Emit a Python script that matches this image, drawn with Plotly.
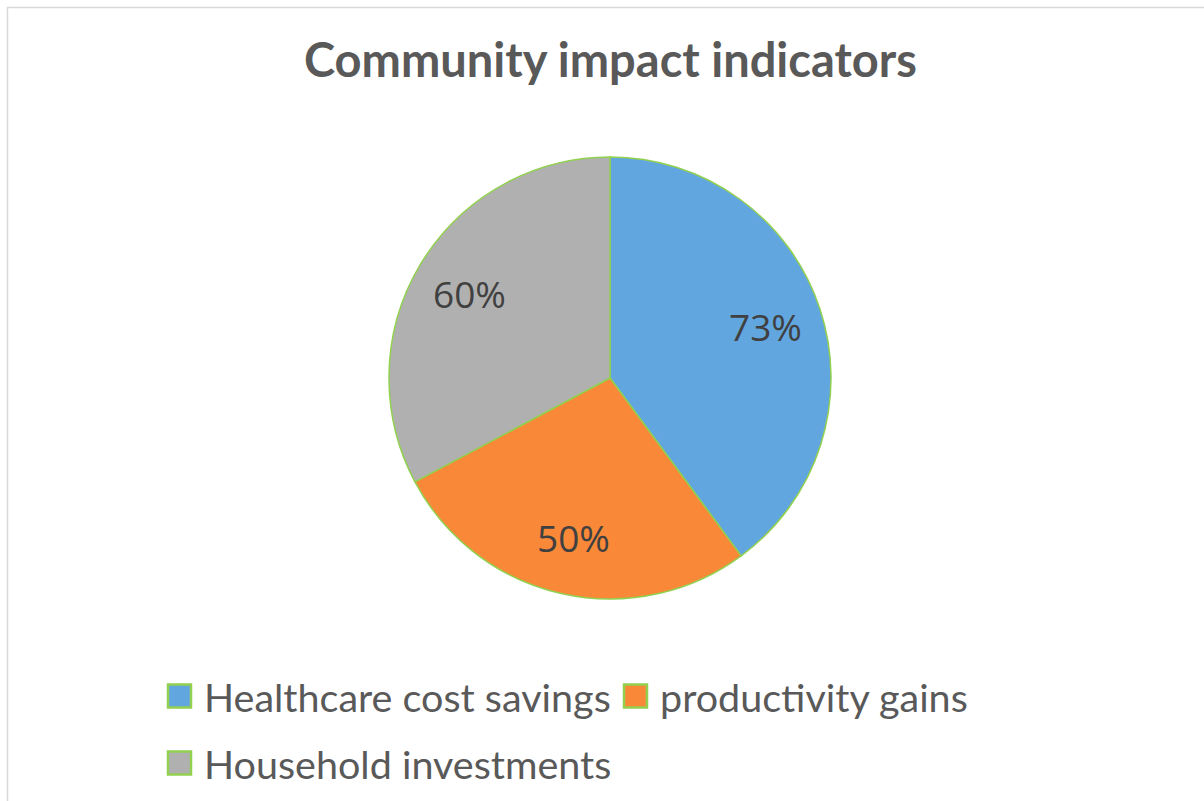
import math
import plotly.graph_objects as go

# Chart data
categories = ["Healthcare cost savings", "productivity gains", "Household investments"]
values = [73, 50, 60]
slice_colors = ["#62A6E0", "#F98838", "#B0B0B0"]

W, H = 1204, 801
cx, cy, r = 610, 378, 221  # pie centre and radius in pixels

fig = go.Figure(
    go.Pie(
        labels=categories,
        values=values,
        sort=False,
        direction="clockwise",
        rotation=0,
        marker=dict(colors=slice_colors, line=dict(color="#92D050", width=1.5)),
        textinfo="none",
        hoverinfo="label+value",
        showlegend=False,
        domain=dict(
            x=[(cx - r) / W, (cx + r) / W],
            y=[1 - (cy + r) / H, 1 - (cy - r) / H],
        ),
    )
)

# Data labels placed on each slice's bisector
total = sum(values)
start = 0.0
for v in values:
    mid = (start + v / 2) / total * 2 * math.pi  # clockwise from 12 o'clock
    start += v
    px = cx + 0.74 * r * math.sin(mid)
    py = cy - 0.74 * r * math.cos(mid)
    fig.add_annotation(
        text=f"{v}%", xref="paper", yref="paper",
        x=px / W, y=1 - py / H, xanchor="center", yanchor="middle", showarrow=False,
        font=dict(family="Open Sans", size=37, color="#404040"),
    )

# Outer chart frame
fig.add_shape(
    type="rect", xref="paper", yref="paper",
    x0=7.5 / W, y0=-0.02, x1=1.02, y1=1 - 7.5 / H,
    line=dict(color="#D9D9D9", width=1.5), fillcolor="rgba(0,0,0,0)",
)

# Title
fig.add_annotation(
    text="<b>Community impact indicators</b>", xref="paper", yref="paper",
    x=610 / W, y=1 - 59 / H, xanchor="center", yanchor="middle", showarrow=False,
    font=dict(family="Lato", size=47, color="#595959"),
)

# Legend drawn as swatches plus labels
legend_pos = [(167, 696), (623, 696), (167, 763)]
for name, color, (lx, ly) in zip(categories, slice_colors, legend_pos):
    fig.add_shape(
        type="rect", xref="paper", yref="paper",
        x0=(lx + 1) / W, x1=(lx + 24) / W, y0=1 - (ly + 11.5) / H, y1=1 - (ly - 11.5) / H,
        fillcolor=color, line=dict(color="#92D050", width=2.5),
    )
    fig.add_annotation(
        text=name, xref="paper", yref="paper",
        x=(lx + 35) / W, y=1 - ly / H, xanchor="left", yanchor="middle",
        showarrow=False, font=dict(family="Lato", size=39.5, color="#595959"),
    )

fig.update_layout(
    width=W, height=H,
    margin=dict(l=0, r=0, t=0, b=0),
    paper_bgcolor="white", plot_bgcolor="white",
)

fig.write_html("out.html")
